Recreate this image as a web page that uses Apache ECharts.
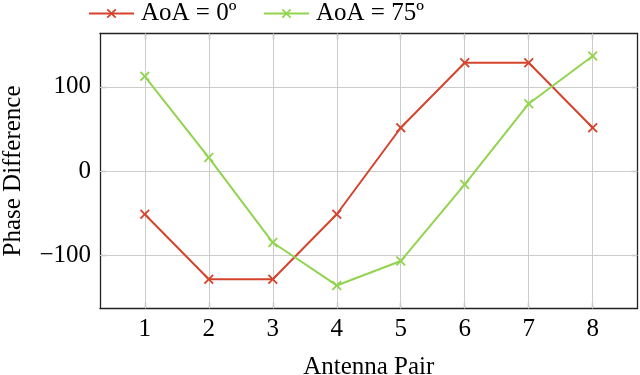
<!DOCTYPE html>
<html>
<head>
<meta charset="utf-8">
<script src="https://cdn.jsdelivr.net/npm/echarts@6/dist/echarts.min.js"></script>
<style>html,body{margin:0;padding:0;background:#fff}#c{width:640px;height:375px}</style>
</head>
<body>
<div id="c"></div>
<script>
const pairs = [1, 2, 3, 4, 5, 6, 7, 8];
const aoa0 = [-51.4, -128.6, -128.6, -51.4, 51.4, 128.6, 128.6, 51.4];
const aoa75 = [112.5, 16, -85, -136, -107, -16, 80, 136.6];
const seriesNames = ['AoA = 0º', 'AoA = 75º'];
const yTicks = [-100, 0, 100];

const FONT = '"Liberation Serif", "DejaVu Serif", serif';
const X_SYM = 'path://M0,1.3L1.3,0L5,3.7L8.7,0L10,1.3L6.3,5L10,8.7L8.7,10L5,6.3L1.3,10L0,8.7L3.7,5Z';
const chart = echarts.init(document.getElementById('c'), null, {renderer: 'canvas'});

function mk(name, vals, color) {
  return {
    name: name, type: 'line',
    data: pairs.map((p, i) => [p, vals[i]]),
    symbol: X_SYM, symbolSize: 10, showAllSymbol: true,
    lineStyle: {color: color, width: 2},
    itemStyle: {color: color},
    emphasis: {disabled: true},
    animation: false, z: 5
  };
}
const tick = vals => ({show: true, inside: true, length: 6, customValues: vals, lineStyle: {color: '#555', width: 1.2}});
const axisLineStyle = {show: true, onZero: false, lineStyle: {color: '#222', width: 1.3}};
const gridLine = {show: false};

const xLo = 0.3, xHi = 8.7, yLo = -163.4, yHi = 163.4;
const legendBase = {
  top: 1, itemWidth: 45, itemHeight: 12, padding: 0,
  textStyle: {fontFamily: FONT, fontSize: 25, color: '#000', padding: [0, 0, 0, 2]}
};

chart.setOption({
  animation: false,
  backgroundColor: '#fff',
  grid: {left: 100, right: 2.5, top: 33.5, bottom: 66.5, containLabel: false, outerBoundsMode: 'none'},
  legend: [
    Object.assign({}, legendBase, {left: 88, data: [seriesNames[0]]}),
    Object.assign({}, legendBase, {left: 263, data: [seriesNames[1]]})
  ],
  xAxis: [{
    type: 'value', min: xLo, max: xHi,
    name: 'Antenna Pair', nameLocation: 'middle', nameGap: 46,
    nameTextStyle: {fontFamily: FONT, fontSize: 25, color: '#000'},
    axisLine: axisLineStyle, axisTick: tick(pairs), splitLine: gridLine,
    axisLabel: {fontFamily: FONT, fontSize: 25, color: '#000', margin: 8, customValues: pairs}
  }, {
    type: 'value', position: 'top', min: xLo, max: xHi,
    axisLine: axisLineStyle, axisTick: tick(pairs), splitLine: {show: false}, axisLabel: {show: false}
  }],
  yAxis: [{
    type: 'value', min: yLo, max: yHi,
    name: 'Phase Difference', nameLocation: 'middle', nameGap: 74,
    nameTextStyle: {fontFamily: FONT, fontSize: 25, color: '#000'},
    axisLine: axisLineStyle, axisTick: tick(yTicks), splitLine: gridLine,
    axisLabel: {fontFamily: FONT, fontSize: 25, color: '#000', margin: 9, customValues: yTicks,
      formatter: v => (v < 0 ? '\u2212' + Math.abs(v) : String(v))}
  }, {
    type: 'value', position: 'right', min: yLo, max: yHi,
    axisLine: axisLineStyle, axisTick: tick(yTicks), splitLine: {show: false}, axisLabel: {show: false}
  }],
  series: [
    {
      type: 'line', data: [], silent: true, z: 1,
      markLine: {
        silent: true, symbol: 'none', animation: false, label: {show: false},
        lineStyle: {color: '#cccccc', width: 1, type: 'solid'},
        data: pairs.map(p => ({xAxis: p})).concat(yTicks.map(v => ({yAxis: v})))
      }
    },
    mk(seriesNames[0], aoa0, '#d5432c'),
    mk(seriesNames[1], aoa75, '#92d44f')
  ]
});
</script>
</body>
</html>
